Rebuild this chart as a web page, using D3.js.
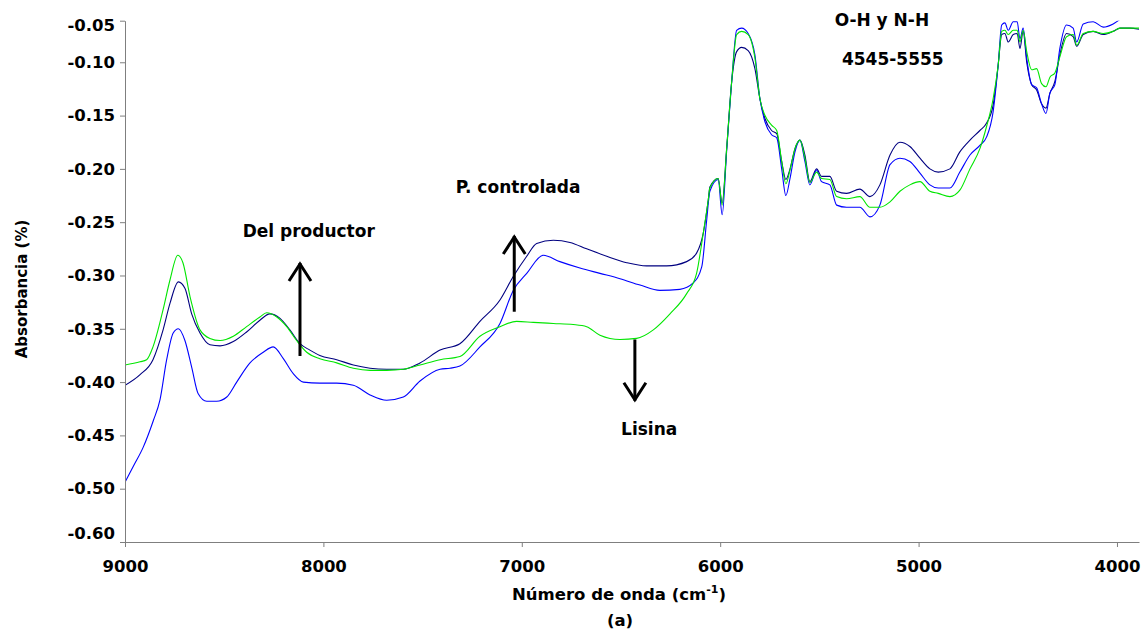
<!DOCTYPE html>
<html>
<head>
<meta charset="utf-8">
<script src="https://cdn.jsdelivr.net/npm/d3@7"></script>
<style>
  body { margin: 0; background: #fff; }
  text { font-family: "DejaVu Sans", sans-serif; font-weight: bold; fill: #000; }
</style>
</head>
<body>
<svg id="chart" width="1145" height="634"></svg>
<script>
// wavenumber (cm-1) / absorbance pairs
const productor = [[9000,-0.403],[8924,-0.393],[8859,-0.379],[8808,-0.351],[8773,-0.326],[8731,-0.306],[8698,-0.312],[8664,-0.336],[8622,-0.354],[8572,-0.365],[8521,-0.366],[8454,-0.362],[8387,-0.353],[8320,-0.342],[8270,-0.336],[8220,-0.340],[8169,-0.351],[8118,-0.364],[8068,-0.370],[8018,-0.375],[7933,-0.379],[7849,-0.384],[7765,-0.387],[7681,-0.388],[7597,-0.388],[7513,-0.382],[7412,-0.370],[7312,-0.364],[7211,-0.343],[7110,-0.323],[7043,-0.301],[6975,-0.282],[6925,-0.270],[6841,-0.267],[6757,-0.269],[6673,-0.275],[6572,-0.282],[6471,-0.288],[6371,-0.291],[6270,-0.291],[6169,-0.287],[6119,-0.279],[6085,-0.260],[6060,-0.229],[6052,-0.217],[6010,-0.209],[5990,-0.232],[5967,-0.180],[5942,-0.118],[5917,-0.090],[5892,-0.086],[5859,-0.089],[5825,-0.106],[5800,-0.134],[5774,-0.153],[5741,-0.164],[5715,-0.167],[5690,-0.193],[5669,-0.210],[5648,-0.200],[5623,-0.181],[5598,-0.173],[5573,-0.187],[5548,-0.212],[5514,-0.200],[5489,-0.207],[5447,-0.207],[5413,-0.221],[5363,-0.223],[5296,-0.219],[5245,-0.226],[5195,-0.215],[5144,-0.187],[5094,-0.175],[5044,-0.179],[4993,-0.190],[4943,-0.200],[4901,-0.203],[4842,-0.200],[4792,-0.184],[4741,-0.173],[4691,-0.164],[4657,-0.157],[4624,-0.140],[4599,-0.103],[4581,-0.074],[4565,-0.073],[4548,-0.081],[4523,-0.074],[4503,-0.073],[4489,-0.087],[4473,-0.071],[4455,-0.100],[4430,-0.121],[4405,-0.126],[4380,-0.139],[4358,-0.143],[4338,-0.129],[4313,-0.118],[4288,-0.093],[4254,-0.073],[4221,-0.076],[4203,-0.085],[4170,-0.074],[4120,-0.071],[4069,-0.074],[4019,-0.071],[3985,-0.068],[3935,-0.068],[3889,-0.069]];

const controlada = [[9000,-0.494],[8958,-0.479],[8908,-0.461],[8857,-0.436],[8824,-0.417],[8790,-0.379],[8757,-0.354],[8731,-0.350],[8698,-0.361],[8664,-0.386],[8631,-0.411],[8588,-0.418],[8538,-0.418],[8487,-0.414],[8437,-0.400],[8370,-0.382],[8303,-0.372],[8253,-0.367],[8202,-0.378],[8152,-0.392],[8101,-0.400],[8018,-0.401],[7933,-0.401],[7849,-0.403],[7765,-0.412],[7681,-0.417],[7597,-0.414],[7513,-0.399],[7412,-0.388],[7362,-0.387],[7312,-0.385],[7211,-0.367],[7110,-0.345],[7043,-0.314],[6975,-0.298],[6892,-0.281],[6808,-0.287],[6707,-0.293],[6606,-0.298],[6505,-0.303],[6404,-0.309],[6304,-0.314],[6203,-0.313],[6136,-0.307],[6093,-0.292],[6068,-0.248],[6052,-0.221],[6010,-0.210],[5990,-0.243],[5967,-0.182],[5942,-0.118],[5917,-0.070],[5892,-0.068],[5859,-0.073],[5825,-0.093],[5800,-0.134],[5774,-0.156],[5741,-0.168],[5715,-0.171],[5690,-0.200],[5669,-0.225],[5648,-0.209],[5623,-0.184],[5598,-0.173],[5573,-0.193],[5548,-0.215],[5514,-0.201],[5489,-0.212],[5447,-0.215],[5413,-0.234],[5363,-0.236],[5296,-0.236],[5245,-0.245],[5195,-0.234],[5144,-0.196],[5094,-0.190],[5044,-0.193],[4993,-0.204],[4943,-0.215],[4901,-0.218],[4842,-0.218],[4792,-0.203],[4741,-0.187],[4691,-0.178],[4657,-0.170],[4624,-0.146],[4599,-0.103],[4581,-0.065],[4565,-0.063],[4548,-0.070],[4523,-0.062],[4503,-0.062],[4489,-0.078],[4473,-0.068],[4455,-0.096],[4430,-0.121],[4405,-0.124],[4380,-0.139],[4358,-0.148],[4338,-0.129],[4313,-0.121],[4288,-0.087],[4254,-0.065],[4221,-0.068],[4203,-0.081],[4170,-0.064],[4120,-0.062],[4069,-0.067],[4019,-0.064],[3985,-0.060],[3935,-0.056],[3889,-0.055]];

const lisina = [[9000,-0.384],[8924,-0.381],[8891,-0.379],[8859,-0.367],[8808,-0.332],[8773,-0.304],[8734,-0.281],[8708,-0.288],[8672,-0.320],[8622,-0.351],[8572,-0.359],[8521,-0.361],[8454,-0.357],[8387,-0.348],[8320,-0.339],[8286,-0.335],[8235,-0.339],[8185,-0.348],[8135,-0.361],[8084,-0.372],[8018,-0.378],[7933,-0.382],[7849,-0.387],[7765,-0.389],[7681,-0.389],[7597,-0.388],[7513,-0.384],[7412,-0.379],[7312,-0.376],[7211,-0.357],[7110,-0.348],[7026,-0.343],[6942,-0.344],[6841,-0.345],[6741,-0.346],[6673,-0.348],[6606,-0.356],[6505,-0.360],[6421,-0.359],[6337,-0.351],[6253,-0.336],[6169,-0.317],[6119,-0.298],[6085,-0.260],[6060,-0.229],[6052,-0.218],[6010,-0.209],[5990,-0.234],[5967,-0.180],[5942,-0.118],[5917,-0.074],[5892,-0.071],[5859,-0.074],[5825,-0.096],[5800,-0.134],[5774,-0.150],[5741,-0.159],[5715,-0.164],[5690,-0.193],[5669,-0.214],[5648,-0.201],[5623,-0.181],[5598,-0.173],[5573,-0.190],[5548,-0.213],[5514,-0.203],[5489,-0.209],[5447,-0.210],[5413,-0.226],[5363,-0.228],[5296,-0.226],[5245,-0.236],[5195,-0.236],[5144,-0.231],[5094,-0.221],[5044,-0.215],[4993,-0.212],[4943,-0.221],[4901,-0.223],[4842,-0.226],[4792,-0.220],[4741,-0.200],[4691,-0.181],[4657,-0.160],[4624,-0.134],[4599,-0.103],[4581,-0.071],[4565,-0.070],[4548,-0.074],[4523,-0.070],[4503,-0.070],[4489,-0.081],[4473,-0.070],[4455,-0.090],[4430,-0.107],[4405,-0.106],[4380,-0.120],[4358,-0.123],[4338,-0.114],[4313,-0.110],[4288,-0.095],[4254,-0.076],[4221,-0.074],[4203,-0.084],[4170,-0.073],[4120,-0.071],[4069,-0.073],[4019,-0.071],[3985,-0.068],[3935,-0.068],[3889,-0.068]];

const xTicks = [9000, 8000, 7000, 6000, 5000, 4000];
const yTickValues = [-0.061, -0.10, -0.15, -0.20, -0.25, -0.30, -0.35, -0.40, -0.45, -0.50, -0.55];
const yTickLabels = ["-0.05", "-0.10", "-0.15", "-0.20", "-0.25", "-0.30", "-0.35", "-0.40", "-0.45", "-0.50", "-0.60"];

// annotations: [wavenumber, absorbance]
const arrows = [
  { from: [8118, -0.3755], to: [8118, -0.2883] },
  { from: [7038, -0.334], to: [7038, -0.263] },
  { from: [6430, -0.360], to: [6430, -0.4175] }
];
const labels = [
  { text: "Del productor", pos: [8074, -0.264] },
  { text: "P. controlada", pos: [7019, -0.223] },
  { text: "Lisina", pos: [6358, -0.450] },
  { text: "O-H y N-H", pos: [5185, -0.066] },
  { text: "4545-5555", pos: [5130, -0.103] }
];

const series = [
  { name: "productor", data: productor, color: "#000080" },
  { name: "controlada", data: controlada, color: "#0000ff" },
  { name: "lisina", data: lisina, color: "#00e600" }
];

const svg = d3.select("#chart");
const plotLeft = 125, plotRight = 1139, plotTop = 20.7, plotBottom = 542;

let x = d3.scaleLinear().domain([9000, 3889]).range([plotLeft, plotRight]);
let y = d3.scaleLinear().domain([-0.55, -0.061]).range([plotBottom, plotTop]);

svg.append("clipPath").attr("id", "plot")
  .append("rect")
  .attr("x", plotLeft).attr("y", plotTop)
  .attr("width", plotRight - plotLeft).attr("height", plotBottom - plotTop);

let line = d3.line()
  .x((d) => x(d[0]))
  .y((d) => y(d[1]))
  .curve(d3.curveMonotoneX);

svg.append("g")
  .attr("clip-path", "url(#plot)")
  .selectAll("path")
  .data(series)
  .enter()
  .append("path")
  .attr("d", (d) => line(d.data))
  .attr("fill", "none")
  .attr("stroke", (d) => d.color)
  .attr("stroke-width", 1.1);

// axes
let yAxis = svg.append("g")
  .attr("transform", `translate(${plotLeft},0)`)
  .call(d3.axisLeft(y).tickValues(yTickValues)
    .tickFormat((d, i) => yTickLabels[i]).tickSize(5).tickSizeOuter(0).tickPadding(5));
yAxis.selectAll("text").style("font-size", "16.5px")
  .attr("dy", (d, i) => i === 0 ? "0.62em" : i === yTickValues.length - 1 ? "-0.22em" : "0.32em");

let xAxis = svg.append("g")
  .attr("transform", `translate(0,${plotBottom})`)
  .call(d3.axisBottom(x).tickValues(xTicks).tickFormat(d3.format("d"))
    .tickSize(5).tickSizeOuter(0).tickPadding(13));
xAxis.selectAll("text").style("font-size", "16.5px");

svg.selectAll(".domain, .tick line").attr("stroke", "#7f7f7f");

// titles
svg.append("text")
  .attr("transform", "translate(27,289) rotate(-90)")
  .attr("text-anchor", "middle")
  .style("font-size", "15px")
  .text("Absorbancia (%)");

let xTitle = svg.append("text")
  .attr("x", 619).attr("y", 600)
  .attr("text-anchor", "middle")
  .style("font-size", "16.5px");
xTitle.append("tspan").text("Número de onda (cm");
xTitle.append("tspan").attr("dy", -7).style("font-size", "11px").text("-1");
xTitle.append("tspan").attr("dy", 7).text(")");

svg.append("text")
  .attr("x", 620).attr("y", 626)
  .attr("text-anchor", "middle")
  .style("font-size", "16.5px")
  .text("(a)");

// annotation arrows
let ann = svg.append("g");
ann.selectAll("line")
  .data(arrows)
  .enter()
  .append("line")
  .attr("x1", (d) => x(d.from[0])).attr("y1", (d) => y(d.from[1]))
  .attr("x2", (d) => x(d.to[0])).attr("y2", (d) => y(d.to[1]))
  .attr("stroke", "#000").attr("stroke-width", 3);

ann.selectAll("path")
  .data(arrows)
  .enter()
  .append("path")
  .attr("d", (d) => {
    let tx = x(d.to[0]), ty = y(d.to[1]);
    let s = y(d.to[1]) < y(d.from[1]) ? 1 : -1;
    return `M${tx - 11},${ty + s * 18}L${tx},${ty + s * 1}L${tx + 11},${ty + s * 18}`;
  })
  .attr("fill", "none")
  .attr("stroke", "#000")
  .attr("stroke-width", 3);

ann.selectAll("text")
  .data(labels)
  .enter()
  .append("text")
  .attr("x", (d) => x(d.pos[0]))
  .attr("y", (d) => y(d.pos[1]))
  .attr("text-anchor", "middle")
  .style("font-size", "17px")
  .text((d) => d.text);
</script>
</body>
</html>
